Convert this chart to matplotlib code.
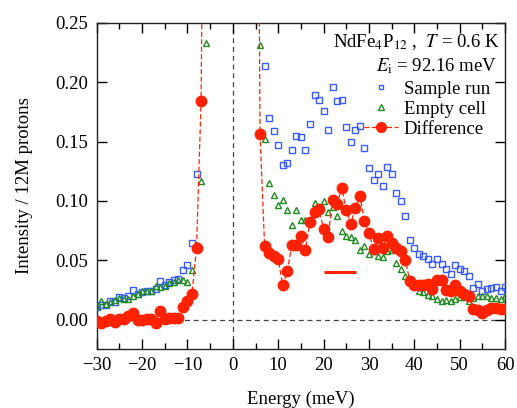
import numpy as np
import matplotlib
matplotlib.use("Agg")
import matplotlib.pyplot as plt
from matplotlib.lines import Line2D

plt.rcParams['font.family'] = ['Liberation Serif', 'DejaVu Serif']
plt.rcParams['mathtext.fontset'] = 'stix'

# energy grid (meV), measured points either side of the elastic line
energy_left = list(range(-30, -5))
energy_right = list(range(5, 61))

# Sample run (blue squares)
sample_left = [0.0104, 0.0126, 0.0125, 0.0154, 0.0148, 0.0188, 0.0182, 0.0202,
               0.0252, 0.0213, 0.0232, 0.0244, 0.0244, 0.0258, 0.0330, 0.0294,
               0.0322, 0.0336, 0.0342, 0.0415, 0.0463, 0.0645, 0.123, 0.301, 0.83]
sample_right = [1.35, 0.387, 0.214, 0.170, 0.159, 0.147, 0.130, 0.132, 0.143, 0.155,
                0.154, 0.143, 0.165, 0.189, 0.185, 0.176, 0.160, 0.196, 0.184, 0.185,
                0.162, 0.150, 0.160, 0.163, 0.145, 0.128, 0.118, 0.123, 0.113, 0.129,
                0.123, 0.107, 0.0996, 0.087, 0.0668, 0.060, 0.0553, 0.0533, 0.0511, 0.047,
                0.0511, 0.047, 0.043, 0.0387, 0.046, 0.0427, 0.0407, 0.037, 0.027, 0.030,
                0.0238, 0.0258, 0.027, 0.0275, 0.0238, 0.0275]

# Empty cell (green triangles)
empty_left = [0.0118, 0.0154, 0.0135, 0.0146, 0.0168, 0.0182, 0.0174, 0.0174,
              0.0196, 0.0219, 0.0238, 0.0238, 0.0238, 0.0286, 0.0275, 0.0286,
              0.0308, 0.0322, 0.0337, 0.0331, 0.0314, 0.0421, 0.063, 0.117, 0.233]
empty_right = [0.55, 0.231, 0.152, 0.115, 0.105, 0.0968, 0.101, 0.0926, 0.080, 0.0926,
               0.0842, 0.084, 0.082, 0.0987, 0.092, 0.0996, 0.091, 0.095, 0.0875, 0.075,
               0.0707, 0.0693, 0.0673, 0.0589, 0.0623, 0.0556, 0.058, 0.0539, 0.0528, 0.058,
               0.0585, 0.0482, 0.0427, 0.037, 0.034, 0.0305, 0.0238, 0.023, 0.021, 0.0196,
               0.0174, 0.0154, 0.0168, 0.0154, 0.0174, 0.019, 0.019, 0.0154, 0.018, 0.0196,
               0.0202, 0.0196, 0.0182, 0.0182, 0.0174, 0.0196]

# Difference (red circles)
diff_left = [-0.0014, -0.0028, -0.0010, 0.0008, -0.0020, 0.0006, 0.0008, 0.0028,
             0.0056, -0.0006, -0.0006, 0.0006, 0.0006, -0.0028, 0.0070, 0.0008,
             0.0014, 0.0014, 0.0014, 0.0106, 0.0154, 0.0220, 0.0600, 0.184, 0.60]
diff_right = [0.80, 0.156, 0.0623, 0.0561, 0.0539, 0.0511, 0.0289, 0.0407, 0.0631, 0.0631,
              0.0707, 0.0589, 0.0827, 0.0910, 0.0932, 0.0763, 0.0696, 0.1010, 0.0976, 0.1110,
              0.0920, 0.0808, 0.0940, 0.1040, 0.0833, 0.0730, 0.0598, 0.0688, 0.0603, 0.0707,
              0.0645, 0.0603, 0.0575, 0.0505, 0.0328, 0.0295, 0.0295, 0.0295, 0.0303, 0.0258,
              0.0337, 0.0331, 0.0247, 0.0238, 0.0295, 0.0238, 0.0219, 0.0202, 0.0090, 0.0084,
              0.0056, 0.0078, 0.0098, 0.0098, 0.0090, 0.0090]

# instrumental resolution bar
res_energy = [20.2, 27.2]
res_level = [0.0404, 0.0404]

blue = '#3a5cff'
green = '#1f8a1f'
red = '#ff2200'

energy = energy_left + energy_right
sample = sample_left + sample_right
empty = empty_left + empty_right
diff = diff_left + diff_right

fig = plt.figure(figsize=(5.17, 4.08), dpi=100)
ax = fig.add_axes([0.187, 0.145, 0.790, 0.799])

ax.axvline(0, color='#444444', ls='--', lw=0.9, dashes=(4, 3), zorder=1)
ax.axhline(0, color='#444444', ls='--', lw=0.9, dashes=(4, 3), zorder=1)

ax.plot(energy, sample, ls='none', marker='s', ms=4, mfc='none', mec=blue, mew=1.0, zorder=3)
ax.plot(energy, empty, ls='none', marker='^', ms=4.5, mfc='none', mec=green, mew=1.0, zorder=3)
ax.plot(energy, diff, ls='--', dashes=(4, 2), lw=0.9, color=red, marker='o', ms=7.5,
        mfc=red, mec=red, zorder=4)
ax.plot(res_energy, res_level, color=red, lw=2.2, solid_capstyle='butt', zorder=4)

ax.set_xlim(-30, 60)
ax.set_ylim(-0.0245, 0.25)
ax.set_xticks(np.arange(-30, 61, 10))
ax.set_xticks(np.arange(-30, 61, 5), minor=True)
ax.set_yticks([0.0, 0.05, 0.10, 0.15, 0.20, 0.25])
ax.set_yticklabels(['0.00', '0.05', '0.10', '0.15', '0.20', '0.25'])
ax.tick_params(which='both', direction='in', top=True, right=True, labelsize=13.5, width=1.0)
ax.tick_params(which='major', length=7, pad=6)
ax.tick_params(which='minor', length=4)
for s in ax.spines.values():
    s.set_linewidth(1.0)
    s.set_color('#222222')

ax.set_xlabel('Energy (meV)', fontsize=13.5, labelpad=12)
ax.set_ylabel('Intensity / 12M protons', fontsize=13.5, labelpad=16)

ax.text(0.988, 0.94, r'NdFe$_4$P$_{12}$ ,  $T$ = 0.6 K', transform=ax.transAxes,
        ha='right', va='center', fontsize=13.5)
ax.text(0.980, 0.866, r'$E_\mathrm{i}$ = 92.16 meV', transform=ax.transAxes,
        ha='right', va='center', fontsize=13.5)

handles = [
    Line2D([], [], ls='none', marker='s', ms=3.5, mfc='none', mec=blue, mew=1.0),
    Line2D([], [], ls='none', marker='^', ms=4, mfc='none', mec=green, mew=1.0),
    Line2D([], [], ls='--', dashes=(4, 2), lw=0.9, color=red, marker='o', ms=7),
]
ax.legend(handles, ['Sample run', 'Empty cell', 'Difference'], loc='upper left',
          bbox_to_anchor=(0.655, 0.822), frameon=False, fontsize=13.5, handlelength=1.8,
          handletextpad=0.3, labelspacing=0.15, borderaxespad=0, borderpad=0)

fig.savefig('out.png', dpi=100)
